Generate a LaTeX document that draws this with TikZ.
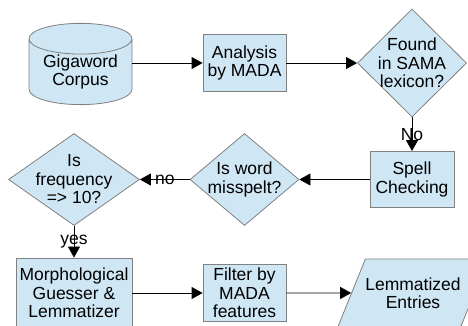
\documentclass[tikz,border=0pt]{standalone}
\usepackage{fontspec}
\setmainfont{Liberation Sans}
\usetikzlibrary{arrows.meta,shapes.geometric}

\definecolor{boxfill}{HTML}{CFE7F5}
\definecolor{boxline}{HTML}{808080}

\begin{document}
\begin{tikzpicture}[
    x=1pt, y=1pt,
    font=\fontsize{17.5}{18.5}\selectfont,
    base/.style={
        draw=boxline, fill=boxfill, line width=0.8pt,
        align=center, inner sep=0pt
    },
    box/.style={base, rectangle, minimum width=83pt, minimum height=57pt},
    decision/.style={
        base, diamond, inner sep=-12pt,
        minimum width=109pt, minimum height=108pt
    },
    store/.style={
        base, cylinder, shape border rotate=90, shape aspect=0.41,
        minimum width=103pt, minimum height=53pt
    },
    io/.style={
        base, trapezium, trapezium left angle=68, trapezium right angle=112,
        inner xsep=0pt, inner ysep=18.3pt
    },
    conn/.style={-{Triangle[length=11pt, width=12pt]}, line width=0.8pt},
    tag/.style={midway, inner sep=0pt},
]

    % Page frame: the picture is cut at the lower and right edges.
    \clip (0,0) rectangle (468,326);

    % Column x-coordinates.
    \def\xLinks{74}
    \def\xMitte{244.5}
    \def\xRechts{412}

    % Row y-coordinates.
    \def\yUno{263}
    \def\yDos{146.5}
    \def\yTres{33}

    % ---------- top row ----------
    \node[store, anchor=shape center] (corpus) at (80.5, 262) {Gigaword\\Corpus};
    \node[box] (mada) at (\xMitte, \yUno) {Analysis\\by MADA};
    \node[decision] (found) at (\xRechts, \yUno) {Found\\in SAMA\\lexicon?};

    \draw[conn] (corpus.east |- mada) -- (mada);
    \draw[conn] (mada) -- (found);

    % ---------- middle row ----------
    \node[box, minimum width=84pt, minimum height=56pt] (spell) at (\xRechts, \yDos) {Spell\\Checking};
    \node[decision, minimum height=92pt] (misspelt) at (\xMitte, \yDos) {Is word\\misspelt?};
    \node[decision, minimum width=131pt, minimum height=92pt] (freq) at (\xLinks, \yDos) {Is\\frequency\\=> 10?};

    \draw[conn] (found) -- node[tag] {No} (spell);
    \draw[conn] (spell) -- (misspelt);
    \draw[conn] (misspelt) -- node[tag] {no} (freq);

    % ---------- bottom row ----------
    \node[box, minimum width=116pt, minimum height=70pt] (guesser) at (\xLinks, \yTres) {Morphological\\Guesser \&\\Lemmatizer};
    \node[box] (filter) at (\xMitte, \yTres) {Filter by\\MADA\\features};
    \node[io] (entries) at (413, \yTres) {Lemmatized\\Entries};

    \draw[conn] (freq) -- node[tag] {yes} (guesser);
    \draw[conn] (guesser) -- (filter);
    \draw[conn] (filter) -- (entries);

\end{tikzpicture}
\end{document}
